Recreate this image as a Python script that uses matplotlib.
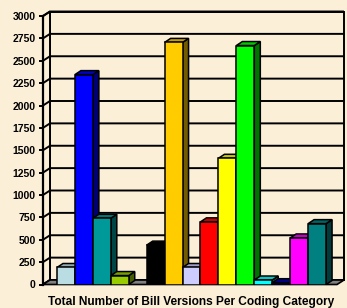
import matplotlib
matplotlib.use("Agg")
import matplotlib.pyplot as plt
from matplotlib.patches import Polygon, Rectangle
import numpy as np

plt.rcParams['font.family'] = ['Liberation Sans', 'DejaVu Sans']

# ---- data ----
categories = ["C1", "C2", "C3", "C4", "C5", "C6", "C7", "C8", "C9", "C10",
              "C11", "C12", "C13", "C14", "C15"]
values = [190, 2345, 740, 100, 0, 440, 2705, 190, 700, 1410, 2670, 50, 20, 520, 680]
front_colors = ["#BADDE4", "#0000FF", "#009999", "#99CC00", "#808080", "#000000",
                "#FFCC00", "#CCCCFF", "#FF0000", "#FFFF00", "#00FF00", "#00FFFF",
                "#0000AA", "#FF00FF", "#008080"]
yticks = list(range(0, 3001, 250))
title = "Total Number of Bill Versions Per Coding Category"

BG = "#FBEFD8"
W, H = 347, 308
fig = plt.figure(figsize=(W / 100, H / 100), dpi=100, facecolor=BG)

# front plane of the plot in pixels
px_left, px_right = 43, 337
px_top, px_bottom = 16, 284.5
ax = fig.add_axes([px_left / W, (H - px_bottom) / H,
                   (px_right - px_left) / W, (px_bottom - px_top) / H])
ax.set_facecolor("none")

x = np.arange(len(values))
x0, x1 = -1.28, len(values) - 0.5 + 0.61
ax.set_xlim(x0, x1)
ax.set_ylim(0, 3000)

# depth offset (pixels -> data units)
dpx, dpy = 7.0, 4.5
ux = (x1 - x0) / (px_right - px_left)
uy = 3000 / (px_bottom - px_top)
dx, dy = dpx * ux, dpy * uy
dxb, dyb = 6.0 * ux, 4.0 * uy   # bar depth


def darker(c, f):
    r, g, b = matplotlib.colors.to_rgb(c)
    return (r * f, g * f, b * f)


kw = dict(clip_on=False)
# back wall
ax.add_patch(Rectangle((x0 + dx, dy), x1 - x0, 3000, facecolor=BG,
                       edgecolor="black", lw=1.4, zorder=1, **kw))
# left wall
ax.add_patch(Polygon([(x0, 0), (x0 + dx, dy), (x0 + dx, 3000 + dy), (x0, 3000)],
                     closed=True, facecolor=BG, edgecolor="black", lw=1.4, zorder=1, **kw))
for t in yticks:
    ax.plot([x0, x0 + dx, x1 + dx], [t, t + dy, t + dy], color="black", lw=1.4,
            zorder=2, solid_capstyle="butt", **kw)
# floor
ax.add_patch(Polygon([(x0, 0), (x1, 0), (x1 + dx, dy), (x0 + dx, dy)], closed=True,
                     facecolor="#808080", edgecolor="black", lw=1.2, zorder=3, **kw))

# bars
for i, (v, c) in enumerate(zip(values, front_colors)):
    if v <= 0:
        continue
    l, r = x[i] - 0.5, x[i] + 0.5
    z = 4 + i * 0.01
    side = Polygon([(r, 0), (r, v), (r + dxb, v + dyb), (r + dxb, dyb)], closed=True,
                   facecolor=darker(c, 0.45), edgecolor="black", lw=1.1, zorder=z, **kw)
    top = Polygon([(l, v), (r, v), (r + dxb, v + dyb), (l + dxb, v + dyb)], closed=True,
                  facecolor=darker(c, 0.78), edgecolor="black", lw=1.1, zorder=z, **kw)
    ax.add_patch(side)
    ax.add_patch(top)
    ax.bar(x[i], v, width=1.0, color=c, edgecolor="black", lw=1.1, zorder=z + 0.005)

# axes styling
for s in ["top", "right", "bottom"]:
    ax.spines[s].set_visible(False)
ax.spines["left"].set_linewidth(1.6)
ax.spines["left"].set_zorder(10)
ax.set_xticks([])
ax.set_yticks(yticks)
ax.set_yticklabels([str(t) for t in yticks], fontsize=7.5, fontweight="bold")
ax.tick_params(axis="y", direction="out", length=3.2, width=1.4, pad=2.0)

fig.text(191.5 / W, 1 - 304.5 / H, title, ha="center", va="baseline",
         fontsize=8.6, fontweight="bold")

fig.savefig("out.png", dpi=100, facecolor=BG)
